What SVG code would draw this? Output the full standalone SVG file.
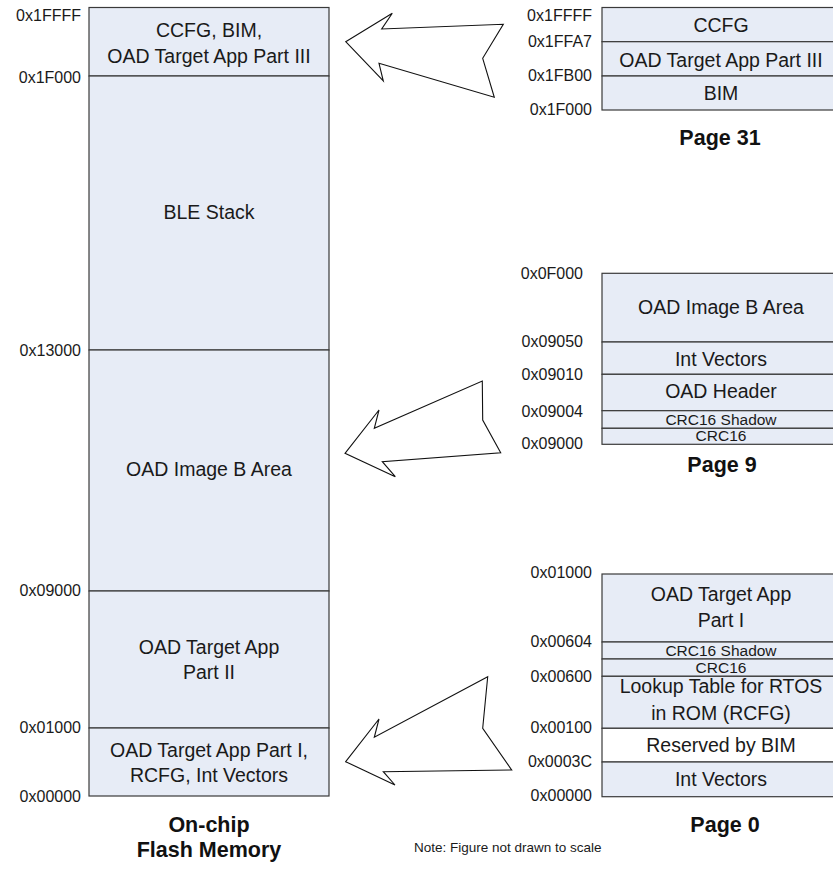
<svg xmlns="http://www.w3.org/2000/svg" width="833" height="869" viewBox="0 0 833 869">
<style>
  .seg { fill: #E7ECF6; stroke: #3a3a3a; stroke-width: 1.2; }
  .white { fill: #FFFFFF; }
  .lbl { font-family: "Liberation Sans", Arial, sans-serif; font-size: 19.5px; fill: #1a1a1a; text-anchor: middle; }
  .sm { font-family: "Liberation Sans", Arial, sans-serif; font-size: 15.5px; fill: #1a1a1a; text-anchor: middle; }
  .addr { font-family: "Liberation Sans", Arial, sans-serif; font-size: 16px; fill: #1a1a1a; text-anchor: end; }
  .title { font-family: "Liberation Sans", Arial, sans-serif; font-size: 21.5px; font-weight: bold; fill: #111; text-anchor: middle; }
  .note { font-family: "Liberation Sans", Arial, sans-serif; font-size: 13.5px; fill: #1a1a1a; }
  .arrow { fill: #FFFFFF; stroke: #111; stroke-width: 1.1; stroke-linejoin: miter; }
</style>

<g id="flash-memory">
  <g id="flash-seg-ccfg">
    <rect class="seg" x="89" y="7.5" width="240" height="68.5"/>
    <text class="lbl" x="209" y="36.7">CCFG, BIM,</text>
    <text class="lbl" x="209" y="63">OAD Target App Part III</text>
  </g>
  <g id="flash-seg-ble">
    <rect class="seg" x="89" y="76" width="240" height="274"/>
    <text class="lbl" x="209" y="219">BLE Stack</text>
  </g>
  <g id="flash-seg-imgb">
    <rect class="seg" x="89" y="350" width="240" height="241"/>
    <text class="lbl" x="209" y="476">OAD Image B Area</text>
  </g>
  <g id="flash-seg-app2">
    <rect class="seg" x="89" y="591" width="240" height="137"/>
    <text class="lbl" x="209" y="654">OAD Target App</text>
    <text class="lbl" x="209" y="679">Part II</text>
  </g>
  <g id="flash-seg-app1">
    <rect class="seg" x="89" y="728" width="240" height="68"/>
    <text class="lbl" x="209" y="757">OAD Target App Part I,</text>
    <text class="lbl" x="209" y="782">RCFG, Int Vectors</text>
  </g>
  <text class="addr" x="81" y="20.5">0x1FFFF</text>
  <text class="addr" x="81" y="83">0x1F000</text>
  <text class="addr" x="81" y="356">0x13000</text>
  <text class="addr" x="81" y="596">0x09000</text>
  <text class="addr" x="81" y="733">0x01000</text>
  <text class="addr" x="81" y="802">0x00000</text>
  <text class="title" x="209" y="832">On-chip</text>
  <text class="title" x="209" y="857">Flash Memory</text>
</g>

<g id="page31">
  <g id="p31-ccfg">
    <rect class="seg" x="602" y="7.5" width="250" height="34.2"/>
    <text class="lbl" x="721" y="31.7">CCFG</text>
  </g>
  <g id="p31-app3">
    <rect class="seg" x="602" y="41.7" width="250" height="34.3"/>
    <text class="lbl" x="721" y="66.7">OAD Target App Part III</text>
  </g>
  <g id="p31-bim">
    <rect class="seg" x="602" y="76" width="250" height="34"/>
    <text class="lbl" x="721" y="100">BIM</text>
  </g>
  <text class="addr" x="592" y="20.7">0x1FFFF</text>
  <text class="addr" x="592" y="46.7">0x1FFA7</text>
  <text class="addr" x="592" y="81">0x1FB00</text>
  <text class="addr" x="592" y="115">0x1F000</text>
  <text class="title" x="720" y="145">Page 31</text>
</g>

<g id="page9">
  <g id="p9-imgb">
    <rect class="seg" x="602" y="273.3" width="250" height="68.7"/>
    <text class="lbl" x="721" y="314.3">OAD Image B Area</text>
  </g>
  <g id="p9-intvec">
    <rect class="seg" x="602" y="342" width="250" height="32.3"/>
    <text class="lbl" x="721" y="366">Int Vectors</text>
  </g>
  <g id="p9-header">
    <rect class="seg" x="602" y="374.3" width="250" height="36.4"/>
    <text class="lbl" x="721" y="398.3">OAD Header</text>
  </g>
  <g id="p9-crcshadow">
    <rect class="seg" x="602" y="410.7" width="250" height="17.6"/>
    <text class="sm" x="721" y="424.5">CRC16 Shadow</text>
  </g>
  <g id="p9-crc">
    <rect class="seg" x="602" y="428.3" width="250" height="16"/>
    <text class="sm" x="721" y="441">CRC16</text>
  </g>
  <text class="addr" x="583" y="279">0x0F000</text>
  <text class="addr" x="583" y="347.3">0x09050</text>
  <text class="addr" x="583" y="380">0x09010</text>
  <text class="addr" x="583" y="416.7">0x09004</text>
  <text class="addr" x="583" y="449.3">0x09000</text>
  <text class="title" x="722" y="472">Page 9</text>
</g>

<g id="page0">
  <g id="p0-app1">
    <rect class="seg" x="602" y="574" width="250" height="68"/>
    <text class="lbl" x="721" y="600.7">OAD Target App</text>
    <text class="lbl" x="721" y="626.7">Part I</text>
  </g>
  <g id="p0-crcshadow">
    <rect class="seg" x="602" y="642" width="250" height="17"/>
    <text class="sm" x="721" y="656">CRC16 Shadow</text>
  </g>
  <g id="p0-crc">
    <rect class="seg" x="602" y="659" width="250" height="17.3"/>
    <text class="sm" x="721" y="672.7">CRC16</text>
  </g>
  <g id="p0-lookup">
    <rect class="seg" x="602" y="676.3" width="250" height="52"/>
    <text class="lbl" x="721" y="693.3">Lookup Table for RTOS</text>
    <text class="lbl" x="721" y="720">in ROM (RCFG)</text>
  </g>
  <g id="p0-reserved">
    <rect class="seg white" x="602" y="728.3" width="250" height="33.7"/>
    <text class="lbl" x="721" y="751.7">Reserved by BIM</text>
  </g>
  <g id="p0-intvec">
    <rect class="seg" x="602" y="762" width="250" height="34.7"/>
    <text class="lbl" x="721" y="786">Int Vectors</text>
  </g>
  <text class="addr" x="592" y="578.3">0x01000</text>
  <text class="addr" x="592" y="646.7">0x00604</text>
  <text class="addr" x="592" y="681.7">0x00600</text>
  <text class="addr" x="592" y="733.3">0x00100</text>
  <text class="addr" x="592" y="767.3">0x0003C</text>
  <text class="addr" x="592" y="800.7">0x00000</text>
  <text class="title" x="725" y="832">Page 0</text>
</g>

<g id="connectors">
  <polygon class="arrow" points="345.7,41.7 392.3,13.3 381.7,29 503.3,24.3 482.7,58.3 494.3,97.3 379,63.3 383.3,81"/>
  <polygon class="arrow" points="345,453.3 379,410 374.3,428.3 482.3,381 482.7,420 500.7,452.7 382.3,461.7 395.3,476.7"/>
  <polygon class="arrow" points="345.7,761.7 379,719 374.3,737.3 487.7,676.7 482.7,728.3 511.7,770 383.3,771.7 395,785"/>
</g>

<text class="note" x="414" y="852">Note: Figure not drawn to scale</text>
</svg>
